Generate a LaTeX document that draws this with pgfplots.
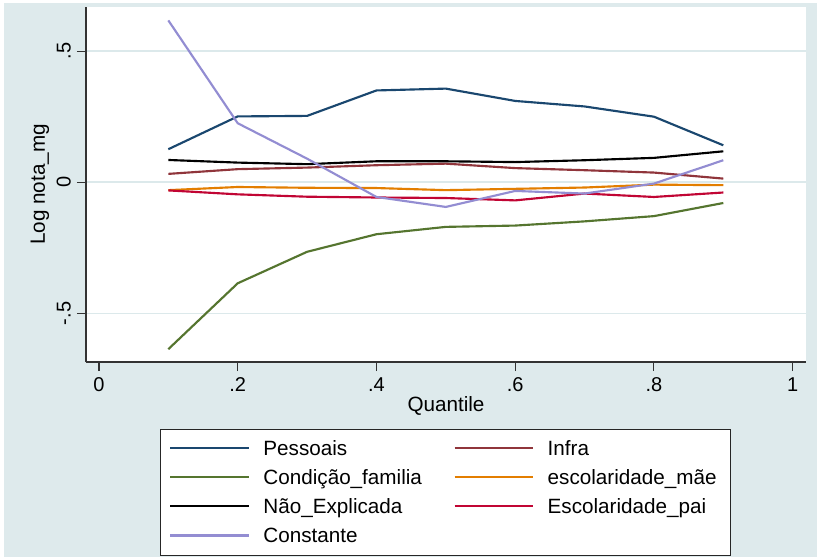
\documentclass[border=0pt]{standalone}
\usepackage{pgfplots}
\pgfplotsset{compat=1.18}
\usepackage{fontspec}
\setmainfont{Liberation Sans}
\definecolor{bgc}{RGB}{222,234,236}
\definecolor{gridc}{RGB}{220,233,235}
\definecolor{snavy}{RGB}{26,71,111}
\definecolor{smaroon}{RGB}{144,53,59}
\definecolor{sgreen}{RGB}{85,117,47}
\definecolor{sorange}{RGB}{227,126,0}
\definecolor{scran}{RGB}{193,5,52}
\definecolor{slav}{RGB}{147,141,210}

\begin{document}
\begin{tikzpicture}
\fill[white] (0,0) rectangle (612.75pt,417.75pt);
\fill[bgc] (3pt,0) rectangle (612.75pt,415.75pt);
\draw[black!85, line width=0.75pt, fill=white] (120.5pt,1.5pt) rectangle (548pt,95.8pt);
\begin{axis}[
  at={(64.5pt,146.25pt)}, anchor=south west,
  width=540pt, height=266.25pt, scale only axis,
  xmin=-0.0187, xmax=1.0192, ymin=-0.685, ymax=0.668,
  axis x line*=bottom, axis y line*=left,
  axis line style={black!80, line width=0.8pt, -},
  axis background/.style={fill=white},
  xtick={0,0.2,0.4,0.6,0.8,1}, xticklabels={0,.2,.4,.6,.8,1},
  ytick={-0.5,0,0.5}, yticklabels={-.5,0,.5},
  tick align=outside, major tick length=6.75pt,
  tick style={black!80, line width=0.8pt},
  ymajorgrids, grid style={gridc, line width=1.2pt},
  ticklabel style={font=\fontsize{15}{18}\selectfont, inner sep=0pt},
  xticklabel style={anchor=north},
  yticklabel style={rotate=90, anchor=south},
  xticklabel shift=4.5pt, yticklabel shift=4.5pt,
  xlabel={Quantile}, ylabel={Log nota\_mg},
  label style={font=\fontsize{15.5}{18}\selectfont, inner sep=0pt},
  xlabel style={at={(axis description cs:0.5,-0.1403)}, anchor=base},
  ylabel style={at={(axis description cs:-0.0572,0.5)}, anchor=base},
  legend columns=2, legend cell align=left,
  legend style={at={(axis description cs:0.1157,-0.2113)}, anchor=north west,
    draw=none, fill=none, inner sep=0pt, outer sep=0pt, row sep=4.9pt,
    font=\fontsize{15.5}{18}\selectfont,
    nodes={inner sep=0pt, text height=14pt, text depth=2.9pt},
    /tikz/every odd column/.append style={column sep=10pt},
    /tikz/every even column/.append style={column sep=23.7pt}},
  legend image code/.code={\draw[#1, line width=1.6pt] (0pt,0pt) -- (59pt,0pt);},
  every axis plot/.append style={line width=1.6pt},
]
\addplot[snavy] coordinates {(0.1,0.126) (0.2,0.251) (0.3,0.253) (0.4,0.350) (0.5,0.357) (0.6,0.310) (0.7,0.289) (0.8,0.250) (0.9,0.141)};
\addlegendentry{Pessoais}
\addplot[smaroon] coordinates {(0.1,0.032) (0.2,0.050) (0.3,0.056) (0.4,0.065) (0.5,0.071) (0.6,0.054) (0.7,0.046) (0.8,0.037) (0.9,0.014)};
\addlegendentry{Infra}
\addplot[sgreen] coordinates {(0.1,-0.636) (0.2,-0.385) (0.3,-0.265) (0.4,-0.198) (0.5,-0.170) (0.6,-0.165) (0.7,-0.149) (0.8,-0.129) (0.9,-0.079)};
\addlegendentry{Condição\_familia}
\addplot[sorange] coordinates {(0.1,-0.030) (0.2,-0.018) (0.3,-0.021) (0.4,-0.022) (0.5,-0.030) (0.6,-0.025) (0.7,-0.020) (0.8,-0.009) (0.9,-0.011)};
\addlegendentry{escolaridade\_mãe}
\addplot[black] coordinates {(0.1,0.085) (0.2,0.075) (0.3,0.069) (0.4,0.080) (0.5,0.080) (0.6,0.077) (0.7,0.084) (0.8,0.093) (0.9,0.118)};
\addlegendentry{Não\_Explicada}
\addplot[scran] coordinates {(0.1,-0.031) (0.2,-0.046) (0.3,-0.055) (0.4,-0.058) (0.5,-0.060) (0.6,-0.069) (0.7,-0.043) (0.8,-0.056) (0.9,-0.039)};
\addlegendentry{Escolaridade\_pai}
\addplot[slav] coordinates {(0.1,0.617) (0.2,0.225) (0.3,0.090) (0.4,-0.056) (0.5,-0.094) (0.6,-0.033) (0.7,-0.043) (0.8,-0.005) (0.9,0.084)};
\addlegendentry{Constante}
\end{axis}
\pgfresetboundingbox
\useasboundingbox (0,0) rectangle (612.75pt,417.75pt);
\end{tikzpicture}
\end{document}
